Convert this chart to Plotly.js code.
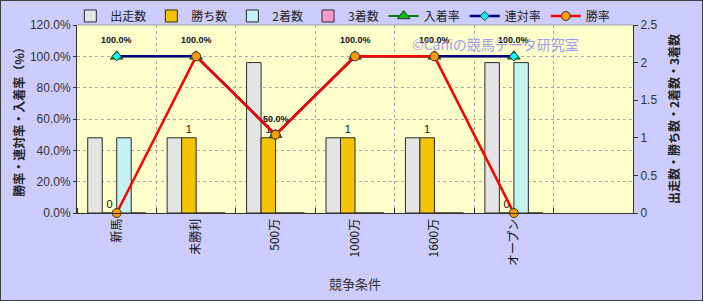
<!DOCTYPE html>
<html>
<head>
<meta charset="utf-8">
<script src="https://cdn.plot.ly/plotly-3.0.1.min.js"></script>
<style>
  html, body { margin: 0; padding: 0; background: #CCCCFF; }
  #wrap { position: relative; width: 703px; height: 301px; }
  #chart { width: 703px; height: 301px; }
  #frame { position: absolute; left: 0; top: 0; width: 703px; height: 301px;
           box-sizing: border-box; border: 1px solid #404040; pointer-events: none; }
</style>
</head>
<body>
<div id="wrap"><div id="chart"></div><div id="frame"></div></div>
<script>
// 競争条件ごとの成績
const categories = ['新馬', '未勝利', '500万', '1000万', '1600万', 'オープン'];
const starts  = [1, 1, 2, 1, 1, 2];   // 出走数
const wins    = [0, 1, 1, 1, 1, 0];   // 勝ち数
const seconds = [1, 0, 0, 0, 0, 2];   // 2着数
const thirds  = [0, 0, 0, 0, 0, 0];   // 3着数
const placeRate = [100, 100, 50, 100, 100, 100]; // 入着率 (%)
const quinRate  = [100, 100, 50, 100, 100, 100]; // 連対率 (%)
const winRate   = [0, 100, 50, 100, 100, 0];     // 勝率 (%)

const xs = categories.map((_, i) => i);
const numFont = 'Liberation Sans, Arial, Noto Sans CJK JP, sans-serif';
const jpFont = 'Noto Sans CJK JP, Liberation Sans, sans-serif';

function barTrace(name, vals, color, withText) {
  const t = {
    type: 'bar', name: name, x: xs, y: vals, yaxis: 'y', xaxis: 'x',
    marker: { color: color, line: { color: '#2a2a2a', width: 1 } },
    hoverinfo: 'skip'
  };
  if (withText) {
    t.text = vals.map(v => String(v));
    t.textposition = 'outside';
    t.textfont = { family: numFont, size: 11, color: '#111' };
    t.cliponaxis = false;
  }
  return t;
}

function lineTrace(name, vals, lineColor, lineWidth, symbol, fill, size) {
  return {
    type: 'scatter', mode: 'lines+markers', name: name, x: xs, y: vals,
    xaxis: 'x', yaxis: 'y2', cliponaxis: false,
    line: { color: lineColor, width: lineWidth },
    marker: { symbol: symbol, size: size, color: fill, line: { color: '#333', width: 1 } },
    hoverinfo: 'skip'
  };
}

const data = [
  barTrace('出走数', starts, '#E4E4E4', false),
  barTrace('勝ち数', wins, '#F5C400', true),
  barTrace('2着数', seconds, '#C4F2F2', false),
  barTrace('3着数', thirds, '#FF9ACB', false),
  lineTrace('入着率', placeRate, '#008000', 2, 'triangle-up', '#00C000', 11),
  lineTrace('連対率', quinRate, '#000080', 2.5, 'diamond', '#00FFFF', 7),
  lineTrace('勝率', winRate, '#FF0000', 2.5, 'circle', '#FF9900', 9)
];

// 連対率の値ラベル
const rateLabels = quinRate.map((v, i) => ({
  x: xs[i], y: v, xref: 'x', yref: 'y2', yshift: 16, showarrow: false,
  text: v.toFixed(1) + '%',
  font: { family: numFont, size: 9, color: '#111', weight: 'bold' }
}));

const layout = {
  width: 703, height: 301,
  margin: { l: 77, r: 70, t: 25, b: 88, autoexpand: false },
  paper_bgcolor: '#CCCCFF',
  plot_bgcolor: '#FFFFCC',
  barmode: 'group', bargap: 0.27, bargroupgap: 0,
  showlegend: true,
  legend: {
    orientation: 'h', x: -0.012, xanchor: 'left', y: 1.048, yanchor: 'middle',
    bgcolor: 'rgba(0,0,0,0)', itemwidth: 30, tracegroupgap: 0,
    font: { family: jpFont, size: 12, color: '#222' }
  },
  xaxis: {
    range: [-0.5, 6.5], tickmode: 'array', tickvals: xs, ticktext: categories,
    tickangle: -90, ticks: '', showgrid: false, zeroline: false,
    showline: true, linecolor: '#333', linewidth: 1,
    tickfont: { family: jpFont, size: 12, color: '#111' },
    minor: { tick0: -0.5, dtick: 1, showgrid: true, gridcolor: '#A8A8A8', griddash: 'dot',
             gridwidth: 1, ticks: 'inside', ticklen: 5, tickcolor: '#333' },
    title: { text: '競争条件', standoff: 14, font: { family: jpFont, size: 13, color: '#333' } }
  },
  yaxis: {
    side: 'right', range: [0, 2.5], dtick: 0.5, showgrid: false, zeroline: false,
    showline: true, linecolor: '#333', linewidth: 1, ticks: 'outside', ticklen: 4, tickcolor: '#333',
    tickfont: { family: numFont, size: 12, color: '#333' },
    title: { text: '出走数・勝ち数・2着数・3着数', standoff: 14,
             font: { family: jpFont, size: 12, color: '#222', weight: 'bold' } }
  },
  yaxis2: {
    overlaying: 'y', side: 'left', anchor: 'x', range: [0, 120], dtick: 20,
    tickformat: '.1f', ticksuffix: '%', zeroline: false,
    showgrid: true, gridcolor: '#A8A8A8', griddash: 'dot', gridwidth: 1,
    showline: true, linecolor: '#333', linewidth: 1, ticks: 'outside', ticklen: 3, tickcolor: '#333',
    tickfont: { family: numFont, size: 12, color: '#333' },
    title: { text: '勝率・連対率・入着率（%）', standoff: 2,
             font: { family: jpFont, size: 12, color: '#222', weight: 'bold' } }
  },
  shapes: [
    { type: 'line', xref: 'paper', yref: 'paper', x0: 0, x1: 1, y0: 1, y1: 1,
      line: { color: '#A0A0A0', width: 1 } }
  ],
  annotations: rateLabels.concat([
    { xref: 'paper', yref: 'paper', x: 0.752, y: 0.9, xanchor: 'center', yanchor: 'middle',
      showarrow: false, text: '©Caniの競馬データ研究室',
      font: { family: jpFont, size: 14, color: '#9C9CF0' } }
  ])
};

Plotly.newPlot('chart', data, layout, { displayModeBar: false, staticPlot: true });
</script>
</body>
</html>
